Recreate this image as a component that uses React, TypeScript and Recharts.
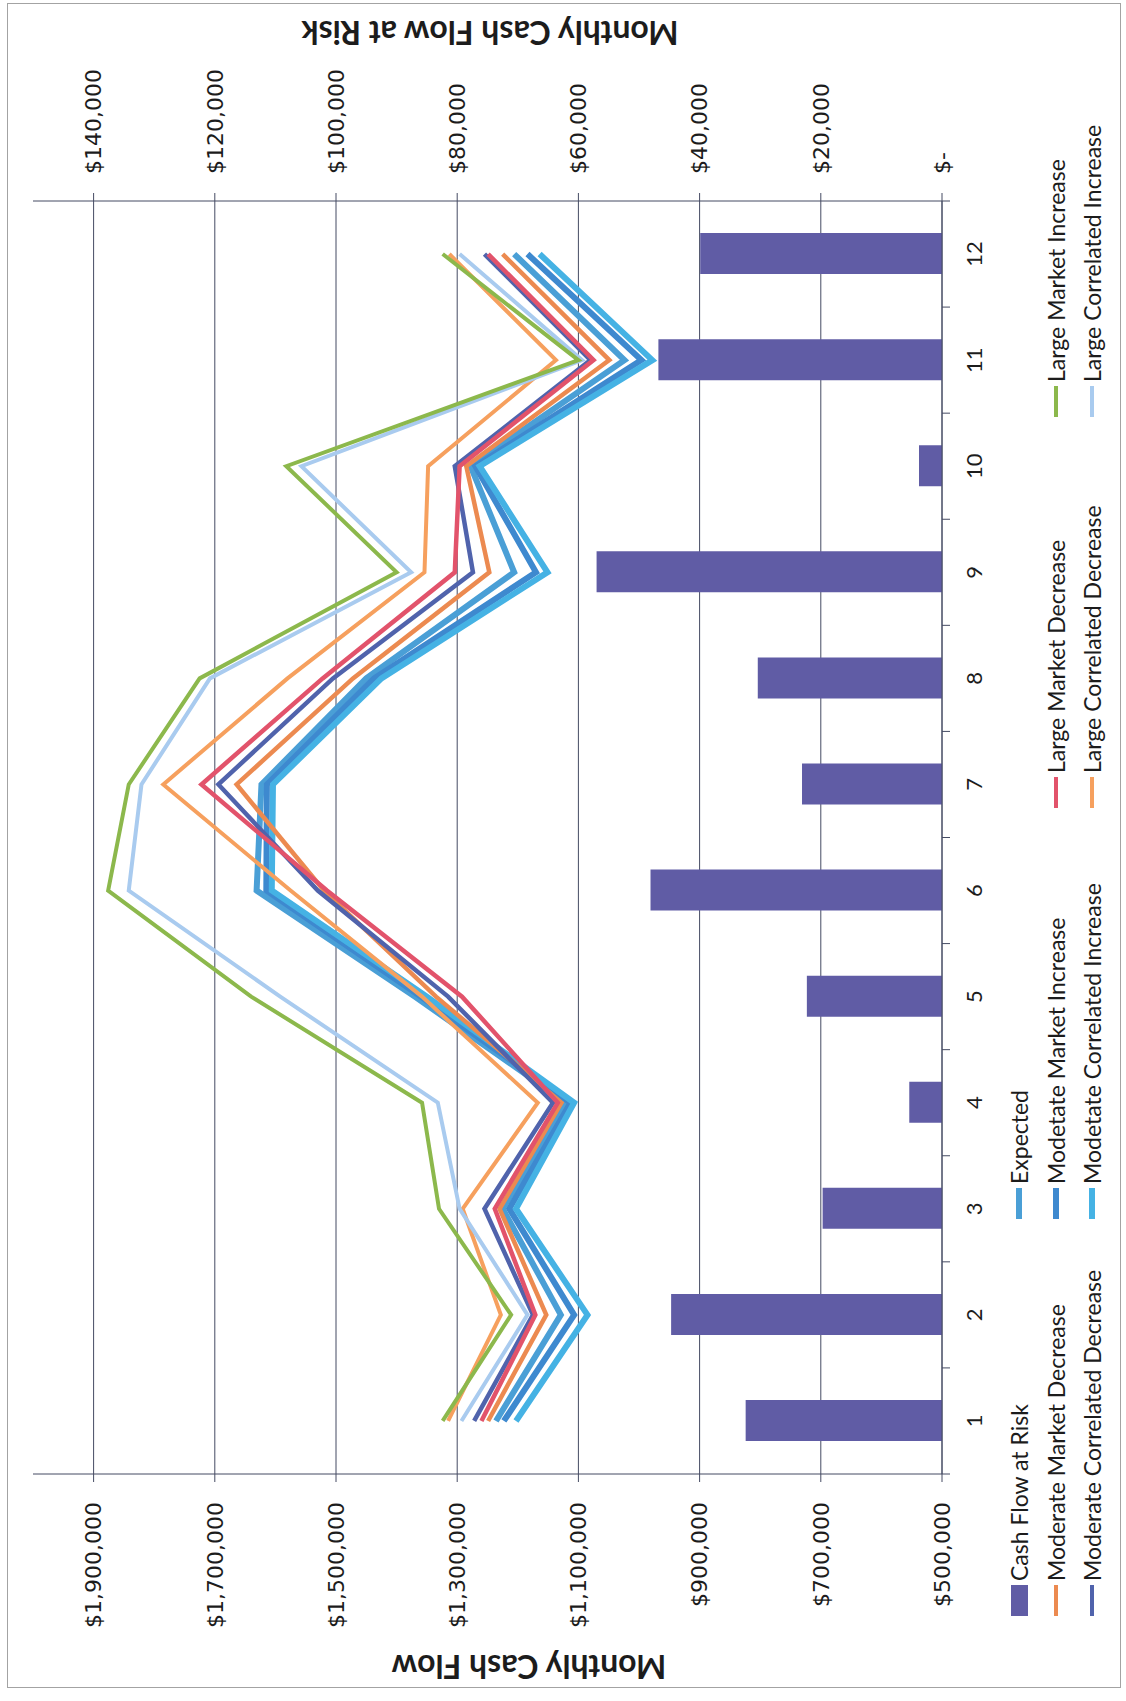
import React from "react";
import { Bar, CartesianGrid, ComposedChart, Label, Line, XAxis, YAxis } from "recharts";

const months = ["1", "2", "3", "4", "5", "6", "7", "8", "9", "10", "11", "12"];

const cashFlowAtRisk = [32400, 44700, 19700, 5400, 22300, 48100, 23100, 30400, 57000, 3800, 46800, 39900];

const expected = [1236000, 1129000, 1225000, 1120000, 1370000, 1631000, 1623000, 1450000, 1206000, 1278000, 1024000, 1206000];
const moderateMarketDecrease = [1249000, 1153000, 1230000, 1128000, 1335000, 1520000, 1664000, 1472000, 1247000, 1285000, 1049000, 1225000];
const moderateMarketIncrease = [1223000, 1107000, 1214000, 1113000, 1360000, 1615000, 1614000, 1437000, 1170000, 1270000, 996000, 1184000];
const largeMarketDecrease = [1260000, 1171000, 1238000, 1134000, 1292000, 1515000, 1722000, 1522000, 1304000, 1296000, 1075000, 1249000];
const largeMarketIncrease = [1324000, 1211000, 1330000, 1358000, 1640000, 1876000, 1842000, 1725000, 1400000, 1582000, 1100000, 1324000];
const moderateCorrelatedDecrease = [1272000, 1175000, 1255000, 1142000, 1315000, 1530000, 1694000, 1505000, 1274000, 1304000, 1080000, 1255000];
const moderateCorrelatedIncrease = [1203000, 1085000, 1203000, 1107000, 1350000, 1606000, 1604000, 1425000, 1151000, 1263000, 978000, 1164000];
const largeCorrelatedDecrease = [1315000, 1228000, 1291000, 1167000, 1358000, 1575000, 1785000, 1580000, 1354000, 1348000, 1137000, 1313000];
const largeCorrelatedIncrease = [1293000, 1184000, 1296000, 1332000, 1592000, 1842000, 1821000, 1708000, 1376000, 1557000, 1094000, 1296000];

const leftTicks = [500000, 700000, 900000, 1100000, 1300000, 1500000, 1700000, 1900000];
const rightTicks = [0, 20000, 40000, 60000, 80000, 100000, 120000, 140000];

const lines = [
  { key: "expected", name: "Expected", values: expected, color: "#4A9FD6", width: 6 },
  { key: "mmi", name: "Modetate Market Increase", values: moderateMarketIncrease, color: "#3E89CF", width: 6 },
  { key: "mci", name: "Modetate Correlated Increase", values: moderateCorrelatedIncrease, color: "#45B2E4", width: 6 },
  { key: "mmd", name: "Moderate Market Decrease", values: moderateMarketDecrease, color: "#EC8A50", width: 4.5 },
  { key: "mcd", name: "Moderate Correlated Decrease", values: moderateCorrelatedDecrease, color: "#5063AC", width: 4.5 },
  { key: "lmd", name: "Large Market Decrease", values: largeMarketDecrease, color: "#E2536B", width: 4.5 },
  { key: "lcd", name: "Large Correlated Decrease", values: largeCorrelatedDecrease, color: "#F6A05E", width: 4 },
  { key: "lci", name: "Large Correlated Increase", values: largeCorrelatedIncrease, color: "#A9CBEF", width: 4 },
  { key: "lmi", name: "Large Market Increase", values: largeMarketIncrease, color: "#8CB84C", width: 4 },
];

const BAR_NAME = "Cash Flow at Risk";
const BAR_COLOR = "#605CA5";

const legendRows = [
  [BAR_NAME, "Expected", null, null],
  ["Moderate Market Decrease", "Modetate Market Increase", "Large Market Decrease", "Large Market Increase"],
  ["Moderate Correlated Decrease", "Modetate Correlated Increase", "Large Correlated Decrease", "Large Correlated Increase"],
];

const data = months.map((m, i) => {
  const row: Record<string, string | number> = { month: m, risk: cashFlowAtRisk[i] };
  lines.forEach((s) => (row[s.key] = s.values[i]));
  return row;
});

const W = 1701;
const H = 1126;
const PLOT_LEFT = 227;
const PLOT_RIGHT = 1500;
const PLOT_TOP = 33;
const PLOT_BOTTOM = 942;
const AXIS = "#454B63";
const TEXT = "#1C1C1C";

const money = (v: number) => "$" + v.toLocaleString("en-US");
const moneyRisk = (v: number) => (v === 0 ? "$-" : money(v));

function CategoryTick(props: any) {
  const { x, payload, index } = props;
  const half = (PLOT_RIGHT - PLOT_LEFT) / months.length / 2;
  return (
    <g>
      <line x1={x - half} x2={x - half} y1={PLOT_BOTTOM} y2={PLOT_BOTTOM + 8} stroke={AXIS} />
      {index === months.length - 1 && <line x1={x + half} x2={x + half} y1={PLOT_BOTTOM} y2={PLOT_BOTTOM + 8} stroke={AXIS} />}
      <text x={x} y={973} textAnchor="middle" dominantBaseline="central" fontFamily="Lato" fontSize={22} fill={TEXT}>
        {payload.value}
      </text>
    </g>
  );
}

const colX = [85, 482, 893, 1284];
const rowY = [1019, 1056, 1092];

function LegendBlock() {
  const lookup: Record<string, { color: string; width: number }> = {};
  lines.forEach((s) => (lookup[s.name] = { color: s.color, width: s.width }));
  return (
    <>
      {legendRows.map((row, r) =>
        row.map((name, c) => {
          if (!name) return null;
          const isBar = name === BAR_NAME;
          const st = lookup[name];
          return (
            <div
              key={name}
              style={{ position: "absolute", left: colX[c], top: rowY[r] - 16, height: 32, display: "flex", alignItems: "center", whiteSpace: "nowrap" }}
            >
              <span
                style={{
                  display: "inline-block",
                  width: 31,
                  height: isBar ? 17 : st.width,
                  background: isBar ? BAR_COLOR : st.color,
                }}
              />
              <span style={{ marginLeft: 4, fontFamily: "Lato", fontSize: 23, color: TEXT, lineHeight: 1 }}>{name}</span>
            </div>
          );
        })
      )}
    </>
  );
}

export default function App() {
  return (
    <div style={{ position: "absolute", left: 0, top: 0, width: H, height: W, overflow: "hidden", background: "#fff" }}>
      <div
        style={{
          position: "absolute",
          left: 0,
          top: 0,
          width: W,
          height: H,
          transformOrigin: "0 0",
          transform: `translate(0px, ${W}px) rotate(-90deg)`,
        }}
      >
        <div style={{ position: "absolute", left: 13, top: 7, width: 1683, height: 1112, border: "1px solid #A3A3A3" }} />
        <ComposedChart width={W} height={H} data={data} margin={{ top: PLOT_TOP, right: 0, bottom: 124, left: 0 }} barSize={41}>
          <CartesianGrid yAxisId="left" vertical={false} syncWithTicks stroke={AXIS} strokeWidth={1} />
          <XAxis dataKey="month" height={60} interval={0} axisLine={{ stroke: AXIS }} tickLine={false} tick={CategoryTick} />
          <YAxis
            yAxisId="left"
            width={PLOT_LEFT}
            domain={[500000, 2000000]}
            ticks={leftTicks}
            allowDataOverflow
            tickFormatter={money}
            tickSize={8}
            tickMargin={20}
            axisLine={{ stroke: AXIS }}
            tickLine={{ stroke: AXIS }}
            tick={{ fontFamily: "DejaVu Sans", fontSize: 22, fill: TEXT }}
          >
            <Label
              content={() => (
                <text x={34} y={529} transform="rotate(-90 34 529)" textAnchor="middle" dominantBaseline="central" fontFamily="Lato" fontWeight="bold" fontSize={32} fill={TEXT}>
                  Monthly Cash Flow
                </text>
              )}
            />
          </YAxis>
          <YAxis
            yAxisId="right"
            orientation="right"
            width={W - PLOT_RIGHT}
            domain={[0, 150000]}
            ticks={rightTicks}
            allowDataOverflow
            tickFormatter={moneyRisk}
            tickSize={8}
            tickMargin={19}
            axisLine={{ stroke: AXIS }}
            tickLine={{ stroke: AXIS }}
            tick={{ fontFamily: "DejaVu Sans", fontSize: 22, fill: TEXT }}
          >
            <Label
              content={() => (
                <text x={1668} y={490} transform="rotate(-90 1668 490)" textAnchor="middle" dominantBaseline="central" fontFamily="Lato" fontWeight="bold" fontSize={32} fill={TEXT}>
                  Monthly Cash Flow at Risk
                </text>
              )}
            />
          </YAxis>
          <Bar yAxisId="right" dataKey="risk" name={BAR_NAME} fill={BAR_COLOR} isAnimationActive={false} />
          {lines.map((s) => (
            <Line
              key={s.key}
              yAxisId="left"
              type="linear"
              dataKey={s.key}
              name={s.name}
              stroke={s.color}
              strokeWidth={s.width}
              dot={false}
              activeDot={false}
              isAnimationActive={false}
            />
          ))}
        </ComposedChart>
        <LegendBlock />
      </div>
    </div>
  );
}
